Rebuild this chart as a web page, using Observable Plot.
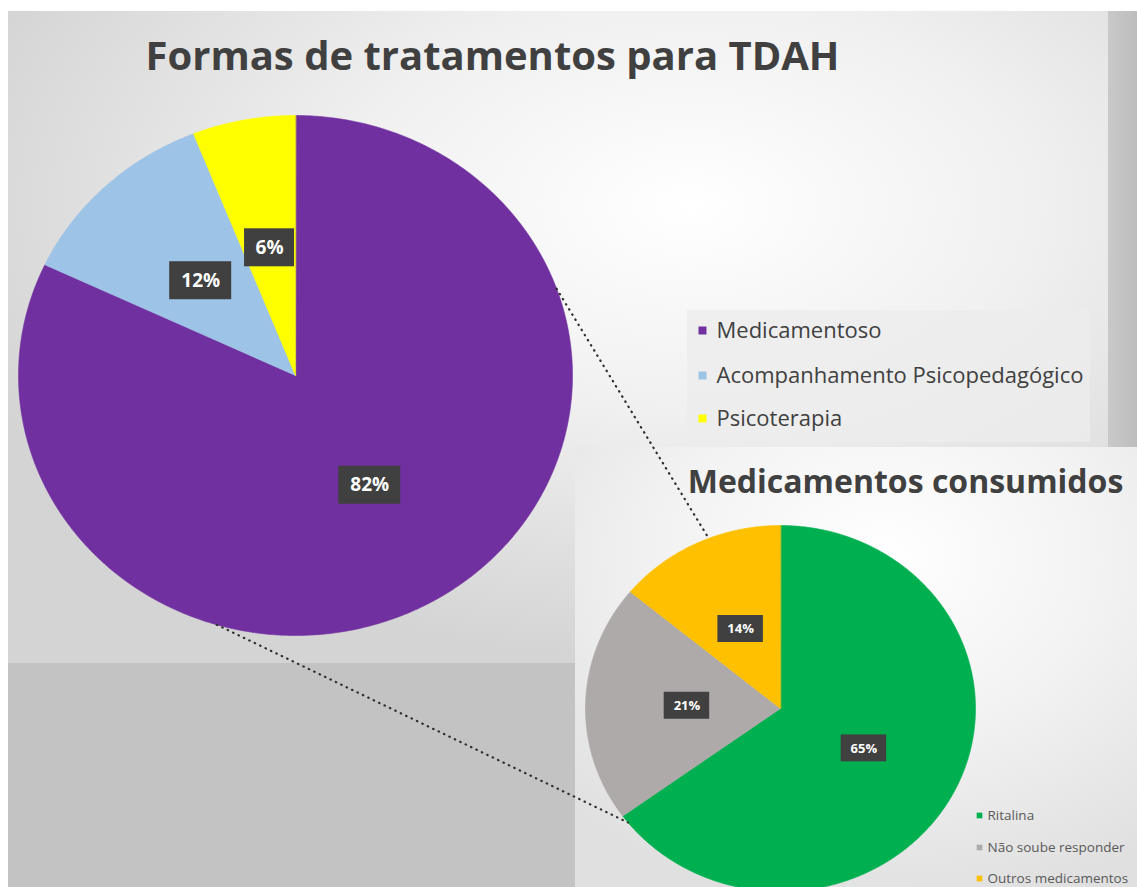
<!DOCTYPE html>
<html><head><meta charset="utf-8">
<script src="https://cdn.jsdelivr.net/npm/d3@7"></script>
<script src="https://cdn.jsdelivr.net/npm/@observablehq/plot@0.6"></script>
<style>body{margin:0;background:#fff}#chart svg{display:block}</style>
</head><body><div id="chart"></div>
<script>
// ---- data ----
const mainCategories = ["Medicamentoso", "Acompanhamento Psicopedagógico", "Psicoterapia"];
const mainValues = [82, 12, 6];
const mainColors = ["#7030A0", "#9DC3E6", "#FFFF00"];
const subCategories = ["Ritalina", "Não soube responder", "Outros medicamentos"];
const subValues = [65, 21, 14];
const subColors = ["#00B050", "#AEAAAA", "#FFC000"];
const titleMain = "Formas de tratamentos para TDAH";
const titleSub = "Medicamentos consumidos";

// ---- layout ----
const W = 1137, H = 887;
const FONT = "'Open Sans', Lato, sans-serif";
const bigPie = {cx: 295, cy: 375, rx: 277, ry: 260};
const smallPie = {cx: 780, cy: 708, rx: 195, ry: 183};
const panels = {
  main: {x1: 8, y1: 11, x2: 1108, y2: 663},
  strip: {x1: 1108, y1: 11, x2: 1137, y2: 447},
  bottom: {x1: 8, y1: 663, x2: 575, y2: 887},
  sub: {x1: 575, y1: 447, x2: 1137, y2: 887},
  legendBox: {x1: 687, y1: 310, x2: 1090, y2: 442}
};
const connectorAngles = [[70.5, 338.4], [196.5, 231.5]];

function pt(p, angDeg, k = 1) {
  const a = angDeg * Math.PI / 180;
  return {x: p.cx + Math.sin(a) * p.rx * k, y: p.cy - Math.cos(a) * p.ry * k};
}
function slices(cats, vals, cols, pie, labelK) {
  const total = d3.sum(vals);
  let a0 = 0;
  const poly = [], labels = [];
  cats.forEach((c, i) => {
    const a1 = a0 + vals[i] / total * 360;
    const n = Math.max(2, Math.ceil((a1 - a0) / 0.5));
    const pts = [{slice: c, ...pt(pie, 0, 0)}];
    for (let j = 0; j <= n; j++) pts.push({slice: c, ...pt(pie, a0 + (a1 - a0) * j / n)});
    poly.push({slice: c, color: cols[i], pts});
    labels.push({slice: c, text: Math.round(vals[i] / total * 100) + "%", ...pt(pie, (a0 + a1) / 2, labelK)});
    a0 = a1;
  });
  return {poly, labels};
}
const big = slices(mainCategories, mainValues, mainColors, bigPie, 0.5);
const small = slices(subCategories, subValues, subColors, smallPie, 0.48);
const ellipsePts = p => d3.range(0, 361, 2).map(a => pt(p, a));

const bigLegend = mainCategories.map((c, i) => ({c, color: mainColors[i], y: [330, 375, 418][i]}));
const smallLegend = subCategories.map((c, i) => ({c, color: subColors[i], y: [815, 847, 878][i]}));
const links = connectorAngles.map(([a, b]) => {
  const p = pt(bigPie, a), q = pt(smallPie, b);
  return {x1: p.x, y1: p.y, x2: q.x, y2: q.y};
});

const defs = () => d3.create("svg:defs").html(`
  <radialGradient id="gMain" cx="0.62" cy="0.3" r="0.7">
    <stop offset="0" stop-color="#ffffff"/>
    <stop offset="0.45" stop-color="#f0f0f0"/>
    <stop offset="1" stop-color="#d4d4d4"/>
  </radialGradient>
  <linearGradient id="gStrip" x1="0" x2="1" y1="0" y2="0">
    <stop offset="0" stop-color="#c9c9c9"/>
    <stop offset="1" stop-color="#bdbdbd"/>
  </linearGradient>
  <radialGradient id="gSub" cx="0.55" cy="0.25" r="0.8">
    <stop offset="0" stop-color="#ffffff"/>
    <stop offset="0.5" stop-color="#f2f2f2"/>
    <stop offset="1" stop-color="#e0e0e0"/>
  </radialGradient>
  <filter id="blur8" x="-20%" y="-20%" width="140%" height="140%">
    <feGaussianBlur stdDeviation="7"/>
  </filter>
  <filter id="boxShadow" x="-20%" y="-20%" width="150%" height="150%">
    <feDropShadow dx="2" dy="2" stdDeviation="1.5" flood-color="#000" flood-opacity="0.45"/>
  </filter>
`).node();

const sliceMarks = (s) => s.poly.map(d => Plot.line(d.pts, {x: "x", y: "y", fill: d.color, stroke: d.color, strokeWidth: 0.6, curve: "linear-closed"}));
const shadowMark = (p) => Plot.line(ellipsePts(p), {x: "x", y: "y", fill: "#000", fillOpacity: 0.25, stroke: "none", curve: "linear-closed", ariaLabel: "pie shadow"});

const boxMarks = (labels, charW, pad, h, fs, name) => [
  Plot.rect(labels, {
    x1: d => d.x - (d.text.length * charW + pad) / 2, x2: d => d.x + (d.text.length * charW + pad) / 2,
    y1: d => d.y - h / 2, y2: d => d.y + h / 2, fill: "#404040", ariaLabel: name
  }),
  Plot.text(labels, {x: "x", y: "y", text: "text", fill: "#ffffff", fontSize: fs, fontWeight: "bold"})
];

const chart = Plot.plot({
  width: W, height: H, margin: 0,
  x: {domain: [0, W], range: [0, W], axis: null},
  y: {domain: [0, H], range: [0, H], axis: null},
  color: {type: "identity"},
  style: {background: "#ffffff", fontFamily: FONT},
  marks: [
    defs,
    Plot.rect([panels.main], {x1: "x1", x2: "x2", y1: "y1", y2: "y2", fill: "url(#gMain)"}),
    Plot.rect([panels.strip], {x1: "x1", x2: "x2", y1: "y1", y2: "y2", fill: "url(#gStrip)"}),
    Plot.rect([panels.bottom], {x1: "x1", x2: "x2", y1: "y1", y2: "y2", fill: "#c3c3c3"}),
    Plot.rect([panels.sub], {x1: "x1", x2: "x2", y1: "y1", y2: "y2", fill: "url(#gSub)"}),
    Plot.rect([panels.legendBox], {x1: "x1", x2: "x2", y1: "y1", y2: "y2", fill: "#ececec", fillOpacity: 0.8}),
    shadowMark(bigPie),
    shadowMark(smallPie),
    ...sliceMarks(big),
    ...sliceMarks(small),
    Plot.link(links, {x1: "x1", y1: "y1", x2: "x2", y2: "y2", stroke: "#2e2e2e", strokeWidth: 2.2, strokeDasharray: "0.5,5.5", strokeLinecap: "round"}),
    ...boxMarks(big.labels, 12, 26, 38, 19, "big box"),
    ...boxMarks(small.labels, 8.5, 20, 27, 13, "small box"),
    Plot.text([titleMain], {x: () => 492, y: () => 57, text: d => d, fontSize: 40, fontWeight: "bold", fill: "#404040"}),
    Plot.text([titleSub], {x: () => 905, y: () => 482, text: d => d, fontSize: 32, fontWeight: "bold", fill: "#404040"}),
    Plot.dot(bigLegend, {x: () => 702, y: "y", symbol: "square", r: 4.5, fill: "color"}),
    Plot.text(bigLegend, {x: () => 716, y: "y", text: "c", textAnchor: "start", fontSize: 22, fill: "#404040"}),
    Plot.dot(smallLegend, {x: () => 979, y: "y", symbol: "square", r: 3.2, fill: "color"}),
    Plot.text(smallLegend, {x: () => 987, y: "y", text: "c", textAnchor: "start", fontSize: 13.5, fill: "#595959"})
  ]
});
const s = d3.select(chart);
s.selectAll('g[aria-label="pie shadow"]').attr("filter", "url(#blur8)");
s.selectAll('g[aria-label="big box"], g[aria-label="small box"]').attr("filter", "url(#boxShadow)");
document.getElementById("chart").append(chart);
</script>
</body></html>
